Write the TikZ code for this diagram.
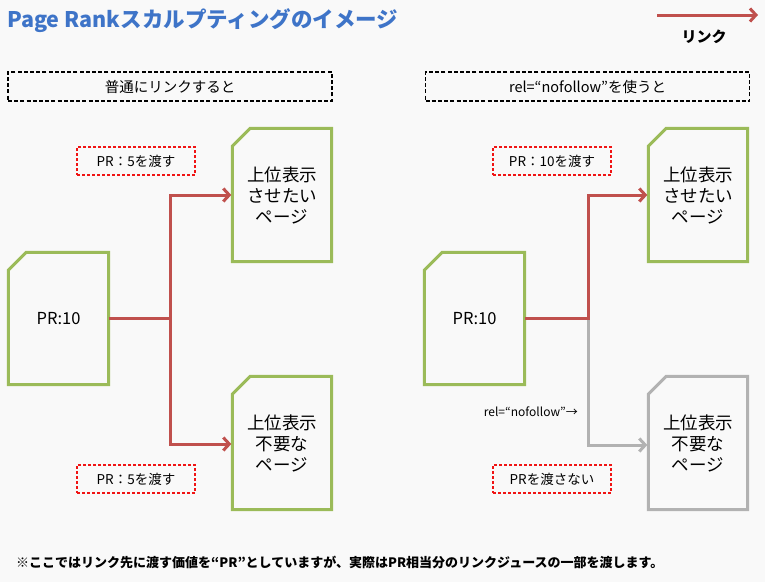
\documentclass[tikz,border=0pt]{standalone}
\usepackage{fontspec}
\setmainfont{Noto Sans CJK JP}
\usetikzlibrary{arrows.meta,positioning}
\definecolor{bg}{RGB}{249,249,249}
\definecolor{linkred}{RGB}{192,80,77}
\definecolor{docgreen}{RGB}{155,187,89}
\definecolor{docgray}{RGB}{178,178,178}
\definecolor{titleblue}{RGB}{62,116,200}
\definecolor{boxred}{RGB}{240,20,20}
\newcommand{\docoutline}[2]{%
  \draw[#2,line width=3pt,line join=miter]
    ([yshift=-18pt]#1.north west) -- ([xshift=18pt]#1.north west) --
    (#1.north east) -- (#1.south east) -- (#1.south west) -- cycle;}
\tikzset{
  docnode/.style={minimum width=99pt,minimum height=133pt,inner sep=0pt,align=center,
    font=\fontsize{17.5}{21}\selectfont},
  srcnode/.style={minimum width=100pt,minimum height=132pt,inner sep=0pt,
    font=\fontsize{16.5}{20}\selectfont},
  header/.style={draw=black,line width=1.4pt,dash pattern=on 4pt off 2.2pt,
    minimum width=324pt,minimum height=29pt,inner sep=0pt,font=\fontsize{14.5}{16}\selectfont},
  prbox/.style={draw=boxred,line width=1.2pt,dash pattern=on 3pt off 2pt,
    minimum width=118pt,minimum height=28pt,inner sep=0pt,font=\fontsize{13.5}{15}\selectfont},
  link/.style={draw=linkred,line width=3pt,-{Straight Barb[length=6pt,width=13pt,line width=3pt]}},
  nolink/.style={draw=docgray,line width=3pt,-{Straight Barb[length=6pt,width=13pt,line width=3pt]}},
}
\begin{document}
\begin{tikzpicture}[x=1pt,y=-1pt]
\useasboundingbox (0,0) rectangle (765,582);
\fill[bg] (0,0) rectangle (765,582);

% title
\node[anchor=west,inner sep=0pt,text=titleblue,font=\fontsize{21.5}{24}\selectfont\bfseries] (title) at (7,21) {Page Rankスカルプティングのイメージ};

% legend
\coordinate (lgA) at (657,15);
\coordinate (lgB) at (758,15);
\draw[link] (lgA) -- (lgB);
\node[font=\fontsize{15}{17}\selectfont\bfseries,inner sep=0pt] (lglabel) at (704,37) {リンク};

% headers
\node[header] (hL) at (170,86.5) {普通にリンクすると};
\node[header] (hR) at (587.5,86.5) {rel=“nofollow”を使うと};

% left side
\node[srcnode] (srcL) at (58.5,318.5) {PR:10};
\node[docnode] (t1L) at (282,195) {上位表示\\させたい\\ページ};
\node[docnode] (t2L) at (282,443) {上位表示\\不要な\\ページ};
\docoutline{srcL}{docgreen}
\docoutline{t1L}{docgreen}
\docoutline{t2L}{docgreen}
\coordinate (jL) at (170,318.5);
\draw[link] (srcL.east) -- (jL) |- ([xshift=-1pt]t1L.west);
\draw[link] (jL) |- ([xshift=-1pt,yshift=-1pt]t2L.west);
\node[prbox] (p1L) at (136,161) {PR：5を渡す};
\node[prbox] (p2L) at (136,479) {PR：5を渡す};

% right side
\node[srcnode] (srcR) at (474.5,318.5) {PR:10};
\node[docnode] (t1R) at (698,195) {上位表示\\させたい\\ページ};
\node[docnode] (t2R) at (698,443) {上位表示\\不要な\\ページ};
\docoutline{srcR}{docgreen}
\docoutline{t1R}{docgreen}
\docoutline{t2R}{docgray}
\coordinate (jR) at (588,318.5);
\draw[nolink] (jR) |- ([xshift=-1pt,yshift=-2pt]t2R.west);
\draw[link] (srcR.east) -- (jR) |- ([xshift=-1pt]t1R.west);
\node[prbox] (p1R) at (552,161) {PR：10を渡す};
\node[prbox] (p2R) at (552,479) {PRを渡さない};
\node[anchor=east,inner sep=0pt,font=\fontsize{12}{14}\selectfont] (nf) at (578,412) {rel=“nofollow”→};

% footnote
\node[anchor=west,inner sep=0pt,font=\fontsize{13}{15}\selectfont\bfseries] (fn) at (16,562)
  {※ここではリンク先に渡す価値を“PR”としていますが、実際はPR相当分のリンクジュースの一部を渡します。};
\end{tikzpicture}
\end{document}
